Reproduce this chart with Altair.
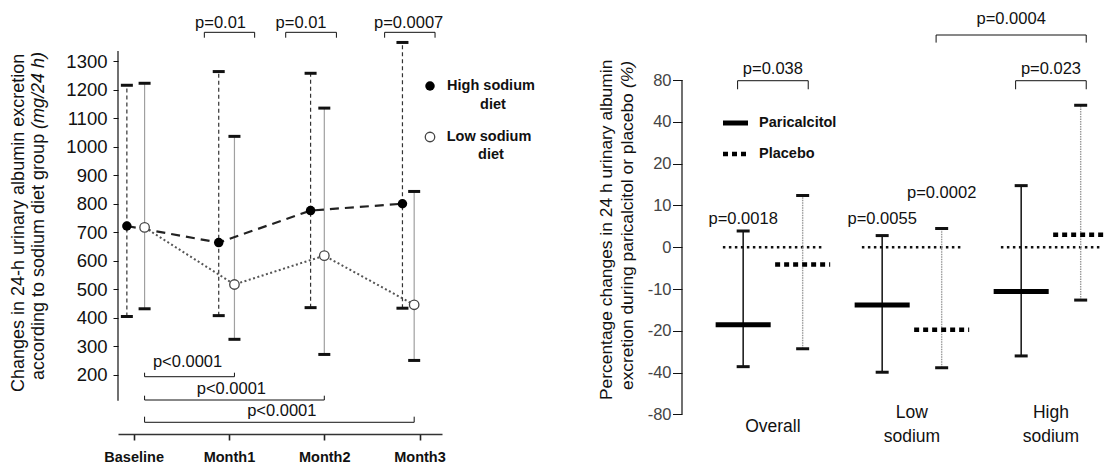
import altair as alt
import pandas as pd

# ---------------- Left panel: albumin excretion by sodium diet ----------------
months = ["Baseline", "Month1", "Month2", "Month3"]
high_mean = [722, 664, 776, 800]
high_low = [405, 408, 436, 434]
high_high = [1215, 1263, 1257, 1365]
low_mean = [717, 517, 618, 446]
low_low = [432, 325, 272, 251]
low_high = [1222, 1036, 1135, 843]
left_ticks = [200, 300, 400, 500, 600, 700, 800, 900, 1000, 1100, 1200, 1300]
top_p = ["p=0.01", "p=0.01", "p=0.0007"]
bottom_p = ["p<0.0001", "p<0.0001", "p<0.0001"]

# ---------------- Right panel: percentage changes ----------------
groups = ["Overall", "Low\nsodium", "High\nsodium"]
par_mean = [-18.1, -13.0, -10.4]
par_low = [-36.2, -39.7, -30.3]
par_high = [3.9, 2.8, 13.9]
pla_mean = [-4.1, -19.6, 3.0]
pla_low = [-26.9, -36.8, -12.0]
pla_high = [11.8, 4.5, 52.7]
right_ticks = [-80, -40, -20, -10, 0, 10, 20, 40, 80]
inner_p = ["p=0.0018", "p=0.0055", "p=0.0002"]
inner_p_val = [6.8, 6.8, 12.3]
bracket_p = ["p=0.038", "p=0.023", "p=0.0004"]

FONT = "Liberation Sans"
ONE = pd.DataFrame({"k": [0]})


def txt(text, x, y, size, weight="normal", style="normal", align="center", angle=0, color="#111"):
    return alt.Chart(ONE).mark_text(
        text=text, font=FONT, fontSize=size, fontWeight=weight, fontStyle=style,
        align=align, baseline="middle", angle=angle, color=color,
    ).encode(x=alt.value(x), y=alt.value(y))


def bracket_rows(x1, x2, yline, yleg):
    return [
        {"xa": x1, "xb": x2, "ya": yline, "yb": yline},
        {"xa": x1, "xb": x1, "ya": yline, "yb": yleg},
        {"xa": x2, "xb": x2, "ya": yline, "yb": yleg},
    ]


# ======================= LEFT =======================
WL, H = 324, 425
XL = alt.Scale(domain=[-0.164, 3.236], nice=False, zero=False)
YL = alt.Scale(domain=[-6.7, 1482.2], nice=False, zero=False)

hx = [-0.071 + 0.964 * i for i in range(len(months))]
lx = [0.115 + 0.943 * i for i in range(len(months))]
df_high = pd.DataFrame({"month": months, "x": hx, "mean": high_mean, "lo": high_low, "hi": high_high})
df_low = pd.DataFrame({"month": months, "x": lx, "mean": low_mean, "lo": low_low, "hi": low_high})

x_axis = alt.Axis(
    values=[0, 1, 2, 3], labelExpr=f"{months}[datum.value]", title=None, grid=False,
    domain=True, domainColor="#333", domainWidth=1.6, ticks=True, tickColor="#222",
    tickWidth=1.6, tickSize=6, labelFont=FONT, labelFontSize=14.5, labelFontWeight="bold",
    labelColor="#111", labelPadding=10,
)
y_axis = alt.Axis(
    values=left_ticks, format="d", title=None, grid=False, domain=False, ticks=True,
    tickColor="#111", tickSize=5, tickWidth=1, labelFont=FONT, labelFontSize=18.5,
    labelColor="#111", labelPadding=6,
)


def XLf(f):
    return alt.X(f, scale=XL, axis=x_axis)


def YLf(f):
    return alt.Y(f, scale=YL, axis=y_axis)


anchor = alt.Chart(ONE).mark_rule(color="white", strokeOpacity=0).encode(
    x=alt.value(-118), x2=alt.value(-118), y=alt.value(-9), y2=alt.value(-8)
)
yaxis_line = alt.Chart(pd.DataFrame({"y1": [110], "y2": [1335]})).mark_rule(
    color="#111", strokeWidth=1.2
).encode(x=alt.value(0), y=YLf("y1:Q"), y2="y2:Q")

hi_err = alt.Chart(df_high).mark_rule(color="#333", strokeWidth=1.2, strokeDash=[4, 3]).encode(
    x=XLf("x:Q"), y=YLf("lo:Q"), y2="hi:Q"
)
lo_err = alt.Chart(df_low).mark_rule(color="#a0a0a0", strokeWidth=1.2).encode(
    x=XLf("x:Q"), y=YLf("lo:Q"), y2="hi:Q"
)
caps = []
for d in (df_high, df_low):
    for f in ("lo:Q", "hi:Q"):
        caps.append(
            alt.Chart(d).mark_tick(orient="horizontal", size=12, thickness=3, color="#111", opacity=1)
            .encode(x=XLf("x:Q"), y=YLf(f))
        )
hi_line = alt.Chart(df_high).mark_line(color="#222", strokeWidth=2.2, strokeDash=[9, 6]).encode(
    x=XLf("x:Q"), y=YLf("mean:Q")
)
lo_line = alt.Chart(df_low).mark_line(color="#555", strokeWidth=2, strokeDash=[2, 2.5]).encode(
    x=XLf("x:Q"), y=YLf("mean:Q")
)
hi_pts = alt.Chart(df_high).mark_circle(size=90, color="#000", opacity=1).encode(
    x=XLf("x:Q"), y=YLf("mean:Q")
)
lo_pts = alt.Chart(df_low).mark_point(
    shape="circle", size=90, filled=True, fill="white", stroke="#444", strokeWidth=1.3, opacity=1
).encode(x=XLf("x:Q"), y=YLf("mean:Q"))

# brackets (left)
top_x = [(0.742, 1.270), (1.596, 2.128), (2.634, 3.163)]
top_tx = [0.912, 1.757, 2.886]
rows = []
for (a, b) in top_x:
    rows += bracket_rows(a, b, 1400.5, 1381.6)
bot_lines = [194, 112.4, 34.3]
bot_legs = [208, 127.5, 54]
for k in range(3):
    rows += bracket_rows(lx[0], lx[k + 1], bot_lines[k], bot_legs[k])
br_left = alt.Chart(pd.DataFrame(rows)).mark_rule(color="#111", strokeWidth=1).encode(
    x=XLf("xa:Q"), x2="xb:Q", y=YLf("ya:Q"), y2="yb:Q"
)
df_ptxt_l = pd.DataFrame({
    "label": top_p + bottom_p,
    "x": top_tx + [0.566, 1.026, 1.555],
    "y": [1433, 1433, 1433, 247, 151, 74],
})
ptxt_l = alt.Chart(df_ptxt_l).mark_text(font=FONT, fontSize=16.5, color="#111", baseline="middle").encode(
    x=XLf("x:Q"), y=YLf("y:Q"), text="label:N"
)

legend_l = [
    alt.Chart(ONE).mark_circle(size=90, color="#000", opacity=1).encode(x=alt.value(312), y=alt.value(77)),
    alt.Chart(ONE).mark_point(shape="circle", size=90, filled=True, fill="white", stroke="#444",
                              strokeWidth=1.3, opacity=1).encode(x=alt.value(312), y=alt.value(128)),
    txt("High sodium", 373, 77, 14.5, weight="bold"),
    txt("diet", 375, 96, 14.5, weight="bold"),
    txt("Low sodium", 371, 128, 14.5, weight="bold"),
    txt("diet", 373, 146, 14.5, weight="bold"),
]
title_l = [
    txt("Changes in 24-h urinary albumin excretion", -99.5, 383, 18, align="left", angle=270),
    txt("according to sodium diet group", -79, 371, 18, align="left", angle=270),
    txt("(mg/24 h)", -79, 120, 18, align="left", angle=270, style="italic"),
]

left = alt.layer(
    anchor, yaxis_line, hi_err, lo_err, *caps, hi_line, lo_line, hi_pts, lo_pts,
    br_left, ptxt_l, *legend_l, *title_l,
).properties(width=WL, height=H)

# ======================= RIGHT =======================
WR = 423
XR = alt.Scale(domain=[-0.654, 2.389], nice=False, zero=False)
YR = alt.Scale(domain=[-4.467, 5.701], nice=False, zero=False)
OFF = 0.214
HALF = 0.198


def tpos(field):
    d = f"datum['{field}']"
    return f"abs({d}) <= 10 ? {d} / 10 : ({d} > 0 ? 1 : -1) * (1 + log(abs({d}) / 10) / log(2))"


yr_axis = alt.Axis(
    values=list(range(-4, 5)), labelExpr=f"{[str(v) for v in right_ticks]}[datum.value + 4]",
    title=None, grid=False, domain=False, ticks=True, tickColor="#111", tickSize=9.5, tickWidth=1,
    labelFont=FONT, labelFontSize=16.5, labelColor="#444", labelPadding=1.5,
)


def XRf(f):
    return alt.X(f, scale=XR, axis=None)


def YRf(f):
    return alt.Y(f, scale=YR, axis=yr_axis)


rrows = []
for i, g in enumerate(groups):
    rrows.append({"grp": g, "trt": "Paricalcitol", "x": i - OFF, "mean": par_mean[i], "lo": par_low[i], "hi": par_high[i]})
    rrows.append({"grp": g, "trt": "Placebo", "x": i + OFF, "mean": pla_mean[i], "lo": pla_low[i], "hi": pla_high[i]})
df_r = pd.DataFrame(rrows)
base_r = alt.Chart(df_r).transform_calculate(
    pm=tpos("mean"), plo=tpos("lo"), phi=tpos("hi"),
    xa=f"datum.x - {HALF}", xb=f"datum.x + {HALF}",
)
is_par = "datum.trt == 'Paricalcitol'"
is_pla = "datum.trt == 'Placebo'"

raxis = alt.Chart(pd.DataFrame({"v1": [right_ticks[0]], "v2": [right_ticks[-1]]})).transform_calculate(
    p1=tpos("v1"), p2=tpos("v2")
).mark_rule(color="#111", strokeWidth=1.2).encode(x=alt.value(0), y=YRf("p1:Q"), y2="p2:Q")

df_zero = pd.DataFrame({"g": list(range(len(groups))), "zero": [0] * len(groups)})
zero_l = alt.Chart(df_zero).transform_calculate(xa="datum.g - 0.36", xb="datum.g + 0.36").mark_rule(
    color="#111", strokeWidth=2.5, strokeDash=[2.5, 3.5], clip=True
).encode(x=XRf("xa:Q"), x2="xb:Q", y=YRf("zero:Q"))

par_eb = base_r.transform_filter(is_par).mark_rule(color="#111", strokeWidth=1.5).encode(
    x=XRf("x:Q"), y=YRf("plo:Q"), y2="phi:Q"
)
pla_eb = base_r.transform_filter(is_pla).mark_rule(color="#9a9a9a", strokeWidth=1.4, strokeDash=[1.5, 1]).encode(
    x=XRf("x:Q"), y=YRf("plo:Q"), y2="phi:Q"
)
rcaps = [
    base_r.mark_tick(orient="horizontal", size=13, thickness=3, color="#111", opacity=1).encode(
        x=XRf("x:Q"), y=YRf(f)
    )
    for f in ("plo:Q", "phi:Q")
]
par_m = base_r.transform_filter(is_par).mark_rule(color="#000", strokeWidth=5, clip=True).encode(
    x=XRf("xa:Q"), x2="xb:Q", y=YRf("pm:Q")
)
pla_m = base_r.transform_filter(is_pla).mark_rule(color="#000", strokeWidth=4.5, strokeDash=[5, 4], clip=True).encode(
    x=XRf("xa:Q"), x2="xb:Q", y=YRf("pm:Q")
)

# category labels: single-line centred, two-line labels start a half line higher
cat_v = [-98.5 if "\n" not in g else -78.7 for g in groups]
df_cat = pd.DataFrame({"label": groups, "g": list(range(len(groups))), "v": cat_v})
cat = alt.Chart(df_cat).transform_calculate(p=tpos("v")).mark_text(
    font=FONT, fontSize=17.5, lineBreak="\n", lineHeight=24, baseline="middle", color="#111"
).encode(x=XRf("g:Q"), y=YRf("p:Q"), text="label:N")

par_x = [i - OFF for i in range(len(groups))]
pla_x = [i + OFF for i in range(len(groups))]
df_pin = pd.DataFrame({"label": inner_p, "x": [par_x[0], par_x[1], pla_x[1]], "v": inner_p_val})
EXT = 0.04
br_specs = [
    (par_x[0] - EXT, pla_x[0] + EXT, 79.2, 68.7, 96.2),
    (par_x[2] - EXT, pla_x[2] + EXT, 79.2, 68.7, 96.2),
    (pla_x[1] - EXT, pla_x[2] + EXT, 169, 149, 220.4),
]
rb = []
for (a, b, yl, yg, _) in br_specs:
    rb += bracket_rows(a, b, yl, yg)
br_right = alt.Chart(pd.DataFrame(rb)).transform_calculate(pa=tpos("ya"), pb=tpos("yb")).mark_rule(
    color="#111", strokeWidth=1
).encode(x=XRf("xa:Q"), x2="xb:Q", y=YRf("pa:Q"), y2="pb:Q")
df_pbr = pd.DataFrame({
    "label": bracket_p + inner_p,
    "x": [(s[0] + s[1]) / 2 for s in br_specs] + list(df_pin["x"]),
    "v": [s[4] for s in br_specs] + inner_p_val,
})
ptxt_r = alt.Chart(df_pbr).transform_calculate(p=tpos("v")).mark_text(
    font=FONT, fontSize=16.5, color="#111", baseline="middle"
).encode(x=XRf("x:Q"), y=YRf("p:Q"), text="label:N")

legend_r = [
    alt.Chart(ONE).mark_rule(color="#000", strokeWidth=5).encode(
        x=alt.value(41), x2=alt.value(66), y=alt.value(114), y2=alt.value(114)),
    alt.Chart(ONE).mark_rule(color="#000", strokeWidth=4.5, strokeDash=[5, 4]).encode(
        x=alt.value(41), x2=alt.value(66), y=alt.value(145), y2=alt.value(145)),
    txt("Paricalcitol", 77, 114, 14.5, weight="bold", align="left"),
    txt("Placebo", 77, 145, 14.5, weight="bold", align="left"),
]
title_r = [
    txt("Percentage changes in 24 h urinary albumin", -75, 391, 17.4, align="left", angle=270),
    txt("excretion during paricalcitol or placebo", -54, 381, 17.4, align="left", angle=270),
    txt("(%)", -54, 79, 17.4, align="left", angle=270, style="italic"),
]

right = alt.layer(
    raxis, zero_l, par_eb, pla_eb, *rcaps, par_m, pla_m, cat, br_right, ptxt_r,
    *legend_r, *title_r,
).properties(width=WR, height=H)

chart = alt.hconcat(left, right, spacing=240, bounds="flush", padding=0).configure_view(stroke=None)
chart.save("out.html", embed_options={"renderer": "svg", "actions": False})
